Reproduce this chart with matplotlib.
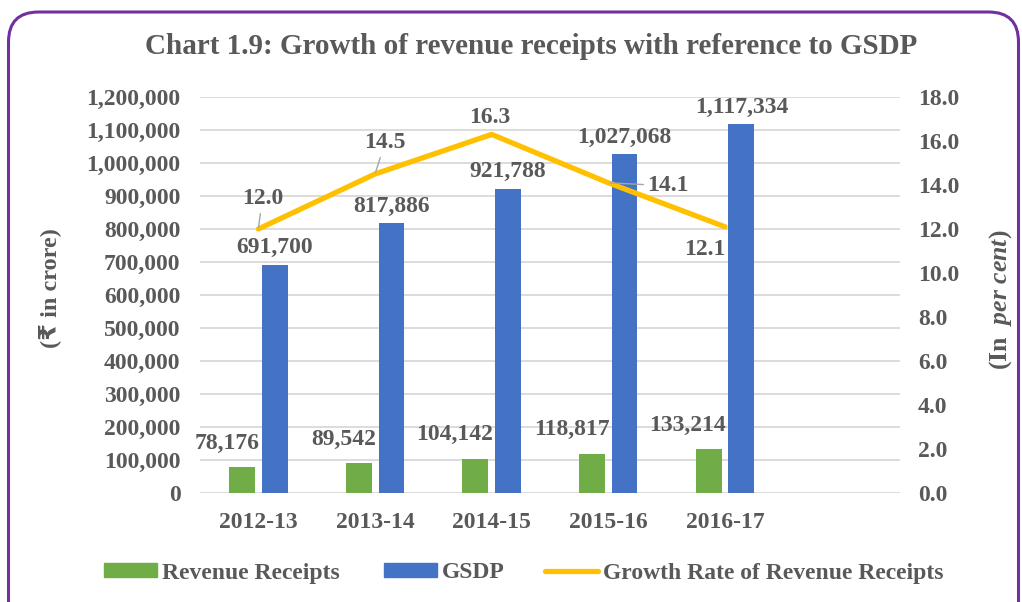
import matplotlib
matplotlib.use('Agg')
import matplotlib.pyplot as plt
import numpy as np
from matplotlib.patches import FancyBboxPatch, Patch
from matplotlib.lines import Line2D
from matplotlib.ticker import FuncFormatter

# data
years = ['2012-13', '2013-14', '2014-15', '2015-16', '2016-17']
revenue_receipts = [78176, 89542, 104142, 118817, 133214]
gsdp = [691700, 817886, 921788, 1027068, 1117334]
growth_rate = [12.0, 14.5, 16.3, 14.1, 12.1]

# label placement for the growth line (pixels from the point), Excel style
line_lbl_offsets = [(4, 30), (10, 31), (-2, 17), (60, -3), (-20, -23)]
line_lbl_leader = [True, True, False, True, False]

txt = '#595959'
green = '#70AD47'
blue = '#4472C4'
yellow = '#FFC000'
fs = 17

plt.rcParams['font.family'] = ['Liberation Serif', 'DejaVu Sans', 'Noto Sans']
plt.rcParams['font.weight'] = 'bold'
plt.rcParams['mathtext.fontset'] = 'custom'
plt.rcParams['mathtext.rm'] = 'Liberation Serif:bold'
plt.rcParams['mathtext.it'] = 'Liberation Serif:italic:bold'

fig = plt.figure(figsize=(10.22, 6.02), dpi=100)
ax = fig.add_axes([200 / 1022, 1 - 493 / 602, 700 / 1022, 396 / 602])
ax2 = ax.twinx()

x = np.arange(len(years))
w = 0.22
off = 0.14
ax.bar(x - off, revenue_receipts, w, color=green, zorder=2)
ax.bar(x + off, gsdp, w, color=blue, zorder=2)

ax.set_xlim(-0.5, 5.5)
ax.set_ylim(0, 1200000)
ax.set_yticks(np.arange(0, 1200001, 100000))
ax.yaxis.set_major_formatter(FuncFormatter(lambda v, p: f'{int(v):,}'))
ax.set_xticks(x)
ax.set_xticklabels(years)
ax.grid(axis='y', color='#d9d9d9', lw=1.3, zorder=0)
ax.set_axisbelow(True)

ax2.set_ylim(0, 18)
ax2.set_yticks(np.arange(0, 18.1, 2))
ax2.yaxis.set_major_formatter(FuncFormatter(lambda v, p: f'{v:.1f}'))
ax2.plot(x, growth_rate, color=yellow, lw=3.8, solid_capstyle='round', zorder=3)

for a in (ax, ax2):
    for s in a.spines.values():
        s.set_visible(False)
    a.tick_params(length=0, labelsize=fs, colors=txt)
ax.tick_params(axis='y', pad=14)
ax.tick_params(axis='x', pad=14)
ax2.tick_params(axis='y', pad=13)

# bar value labels
for i, v in enumerate(revenue_receipts):
    ax.annotate(f'{v:,}', (x[i] + 0.01, v), xytext=(0, 24), textcoords='offset pixels',
                ha='right', va='center', fontsize=fs, color=txt)
for i, v in enumerate(gsdp):
    ax.annotate(f'{v:,}', (x[i] + off, v), xytext=(0, 17), textcoords='offset pixels',
                ha='center', va='center', fontsize=fs, color=txt)

# growth line labels
for i, v in enumerate(growth_rate):
    dx, dy = line_lbl_offsets[i]
    ap = dict(arrowstyle='-', color='#a6a6a6', lw=1, shrinkA=1, shrinkB=1) if line_lbl_leader[i] else None
    ax2.annotate(f'{v:.1f}', (x[i], v), xytext=(dx, dy), textcoords='offset pixels',
                 ha='center', va='center', fontsize=fs, color=txt, arrowprops=ap, zorder=4)

fig.text(50 / 1022, 1 - 288 / 602, '(₹ in crore)', rotation=90, ha='center', va='center',
         fontsize=17.5, color=txt)
fig.text(1001 / 1022, 1 - 300 / 602, r'(In  $\mathit{per\ cent}$)', rotation=90, ha='center',
         va='center', fontsize=18.5, color=txt)
fig.text(531 / 1022, 1 - 47 / 602, 'Chart 1.9: Growth of revenue receipts with reference to GSDP',
         ha='center', va='center', fontsize=21, color=txt)

# legend entries, placed one by one like the Excel legend
handles = [Patch(color=green), Patch(color=blue),
           Line2D([], [], color=yellow, lw=3.8, solid_capstyle='round')]
labels = ['Revenue Receipts', 'GSDP', 'Growth Rate of Revenue Receipts']
starts = [104, 384, 545]
for h, l, s in zip(handles, labels, starts):
    fig.legend([h], [l], loc='center left', bbox_to_anchor=(s / 1022, 1 - 573 / 602),
               frameon=False, fontsize=fs, labelcolor=txt, handlelength=2.25, handleheight=0.5,
               handletextpad=0.2, borderpad=0, borderaxespad=0)

# purple rounded frame
frame = FancyBboxPatch((0.085, -0.5), 10.1, 6.4, boxstyle='round,pad=0,rounding_size=0.3',
                       transform=fig.dpi_scale_trans, fill=False, ec='#7030A0', lw=2.2)
fig.patches.append(frame)

fig.savefig('out.png', dpi=100)
